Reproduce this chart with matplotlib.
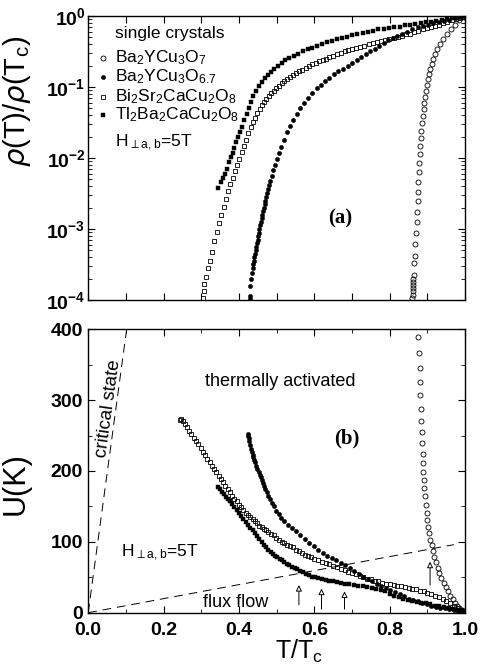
import numpy as np
import matplotlib
matplotlib.use('Agg')
import matplotlib.pyplot as plt
from matplotlib.ticker import MultipleLocator, LogLocator, NullFormatter

plt.rcParams['font.family'] = ['Liberation Sans', 'DejaVu Sans']
plt.rcParams['mathtext.default'] = 'regular'

# ---- panel (a): rho(T)/rho(Tc), values stored as log10 ----
# Ba2YCu3O7 (open circles)
y7_t = [0.860, 0.861, 0.861, 0.862, 0.862, 0.863, 0.863, 0.864, 0.865, 0.867,
        0.868, 0.870, 0.871, 0.873, 0.874, 0.875, 0.876, 0.877, 0.878, 0.879,
        0.881, 0.883, 0.884, 0.886, 0.888, 0.890, 0.892, 0.894, 0.896, 0.899,
        0.902, 0.905, 0.907, 0.911, 0.915, 0.920, 0.925, 0.933, 0.942, 0.951,
        0.962, 0.973, 0.985, 0.996]
y7_lr = [-3.97, -3.93, -3.88, -3.83, -3.79, -3.75, -3.70, -3.65, -3.48, -3.38,
         -3.21, -3.06, -2.90, -2.76, -2.61, -2.48, -2.34, -2.20, -2.07, -1.95,
         -1.83, -1.72, -1.62, -1.51, -1.41, -1.31, -1.22, -1.14, -1.05, -0.97,
         -0.89, -0.82, -0.75, -0.68, -0.61, -0.54, -0.47, -0.40, -0.32, -0.25,
         -0.19, -0.13, -0.06, -0.01]

# Ba2YCu3O6.7 (filled circles)
y67_t = [0.430, 0.430, 0.429, 0.432, 0.434, 0.436, 0.438, 0.439, 0.441, 0.443,
         0.445, 0.446, 0.448, 0.450, 0.451, 0.453, 0.454, 0.456, 0.458, 0.460,
         0.462, 0.464, 0.466, 0.468, 0.470, 0.472, 0.474, 0.477, 0.480, 0.483,
         0.487, 0.491, 0.495, 0.500, 0.506, 0.512, 0.519, 0.527, 0.535, 0.544,
         0.553, 0.563, 0.573, 0.584, 0.595, 0.606, 0.617, 0.628, 0.640, 0.652,
         0.664, 0.676, 0.688, 0.700, 0.712, 0.724, 0.736, 0.748, 0.760, 0.772,
         0.784, 0.796, 0.808, 0.820, 0.833, 0.846, 0.860, 0.874, 0.888, 0.902,
         0.916, 0.930, 0.944, 0.958, 0.972, 0.986, 0.998]
y67_lr = [-3.99, -3.95, -3.80, -3.70, -3.62, -3.55, -3.50, -3.45, -3.40, -3.35,
          -3.30, -3.25, -3.20, -3.15, -3.10, -3.05, -3.00, -2.95, -2.90, -2.85,
          -2.80, -2.75, -2.70, -2.65, -2.60, -2.55, -2.50, -2.44, -2.38, -2.32,
          -2.25, -2.17, -2.10, -2.02, -1.93, -1.84, -1.74, -1.64, -1.55, -1.46,
          -1.38, -1.30, -1.22, -1.15, -1.08, -1.02, -0.97, -0.92, -0.87, -0.82,
          -0.78, -0.74, -0.70, -0.66, -0.62, -0.58, -0.54, -0.50, -0.46, -0.42,
          -0.38, -0.34, -0.31, -0.28, -0.25, -0.22, -0.19, -0.16, -0.14, -0.12,
          -0.10, -0.08, -0.065, -0.05, -0.035, -0.02, -0.005]

# Bi2Sr2CaCu2O8 (open squares)
bi_t = [0.304, 0.306, 0.308, 0.312, 0.318, 0.323, 0.329, 0.335, 0.341, 0.347,
        0.353, 0.359, 0.365, 0.371, 0.377, 0.383, 0.389, 0.395, 0.401, 0.407,
        0.413, 0.419, 0.425, 0.431, 0.437, 0.443, 0.449, 0.455, 0.461, 0.467,
        0.473, 0.479, 0.485, 0.492, 0.499, 0.506, 0.513, 0.520, 0.528, 0.536,
        0.544, 0.552, 0.560, 0.568, 0.577, 0.586, 0.595, 0.604, 0.613, 0.622,
        0.631, 0.640, 0.650, 0.660, 0.670, 0.680, 0.690, 0.700, 0.711, 0.722,
        0.733, 0.744, 0.755, 0.766, 0.777, 0.788, 0.799, 0.810, 0.821, 0.832,
        0.843, 0.854, 0.865, 0.876, 0.887, 0.898, 0.909, 0.920, 0.931, 0.942,
        0.953, 0.964, 0.975, 0.986, 0.996]
bi_lr = [-3.97, -3.87, -3.78, -3.68, -3.55, -3.45, -3.32, -3.17, -3.04, -2.92,
         -2.80, -2.69, -2.58, -2.47, -2.37, -2.28, -2.19, -2.10, -2.01, -1.92,
         -1.83, -1.74, -1.65, -1.57, -1.50, -1.43, -1.37, -1.31, -1.26, -1.21,
         -1.17, -1.13, -1.09, -1.05, -1.01, -0.98, -0.95, -0.92, -0.89, -0.86,
         -0.83, -0.81, -0.78, -0.76, -0.73, -0.71, -0.68, -0.66, -0.64, -0.62,
         -0.60, -0.58, -0.56, -0.54, -0.52, -0.50, -0.48, -0.46, -0.45, -0.43,
         -0.42, -0.40, -0.38, -0.37, -0.35, -0.34, -0.32, -0.31, -0.29, -0.28,
         -0.26, -0.25, -0.23, -0.21, -0.19, -0.17, -0.155, -0.14, -0.12, -0.10,
         -0.08, -0.06, -0.04, -0.025, -0.01]

# Tl2Ba2CaCu2O8 (filled squares)
tl_t = [0.345, 0.352, 0.358, 0.364, 0.369, 0.374, 0.378, 0.383, 0.388, 0.393,
        0.398, 0.403, 0.408, 0.414, 0.420, 0.426, 0.432, 0.438, 0.445, 0.452,
        0.460, 0.468, 0.476, 0.485, 0.494, 0.503, 0.513, 0.523, 0.534, 0.545,
        0.557, 0.569, 0.582, 0.595, 0.608, 0.621, 0.634, 0.647, 0.660, 0.673,
        0.686, 0.700, 0.714, 0.728, 0.742, 0.756, 0.770, 0.784, 0.798, 0.812,
        0.826, 0.840, 0.854, 0.868, 0.882, 0.896, 0.910, 0.924, 0.938, 0.952,
        0.966, 0.980, 0.993]
tl_lr = [-2.42, -2.34, -2.28, -2.22, -2.15, -2.06, -1.99, -1.93, -1.86, -1.78,
         -1.70, -1.63, -1.56, -1.47, -1.38, -1.29, -1.21, -1.13, -1.06, -0.99,
         -0.93, -0.88, -0.83, -0.79, -0.74, -0.70, -0.66, -0.62, -0.59, -0.56,
         -0.53, -0.50, -0.47, -0.45, -0.42, -0.40, -0.37, -0.35, -0.33, -0.31,
         -0.29, -0.27, -0.25, -0.24, -0.22, -0.21, -0.19, -0.18, -0.17, -0.16,
         -0.15, -0.13, -0.12, -0.11, -0.10, -0.09, -0.08, -0.07, -0.06, -0.045,
         -0.03, -0.02, -0.005]

# ---- panel (b): U(K) ----
y7_tu = [0.876, 0.877, 0.879, 0.880, 0.881, 0.882, 0.883, 0.885, 0.886, 0.887,
         0.888, 0.889, 0.891, 0.892, 0.894, 0.896, 0.898, 0.900, 0.902, 0.905,
         0.908, 0.911, 0.914, 0.918, 0.922, 0.927, 0.932, 0.937, 0.943, 0.949,
         0.955, 0.961, 0.967, 0.973, 0.979, 0.985, 0.991, 0.997]
y7_u = [389, 367, 346, 326, 307, 288, 271, 255, 239, 224,
        211, 199, 187, 176, 164, 152, 141, 131, 121, 112,
        103, 95, 87, 79, 71, 63, 56, 49, 42, 36,
        30, 24, 19, 14, 10, 6.5, 3.5, 1.5]

y67_tu = [0.424, 0.425, 0.426, 0.427, 0.430, 0.432, 0.434, 0.436, 0.438, 0.440,
          0.443, 0.446, 0.449, 0.452, 0.455, 0.458, 0.461, 0.464, 0.467, 0.470,
          0.474, 0.478, 0.482, 0.487, 0.492, 0.498, 0.505, 0.512, 0.520, 0.530,
          0.540, 0.550, 0.562, 0.574, 0.586, 0.598, 0.610, 0.622, 0.634, 0.646,
          0.658, 0.670, 0.682, 0.694, 0.706, 0.718, 0.730, 0.742, 0.754, 0.766,
          0.778, 0.790, 0.802, 0.814, 0.826, 0.838, 0.850, 0.862, 0.874, 0.886,
          0.898, 0.910, 0.922, 0.934, 0.946, 0.958, 0.970, 0.982, 0.994]
y67_u = [252, 249, 246, 243, 236, 231, 227, 223, 220, 216,
         212, 207, 203, 199, 195, 191, 187, 183, 179, 175,
         170, 165, 160, 155, 150, 144, 139, 134, 129, 124,
         119, 115, 110, 104, 99, 94, 89, 84, 80, 77,
         74, 70, 67, 63, 59, 55, 51, 48, 44, 41,
         38, 35, 32, 29, 26, 23, 20, 18, 16, 14,
         12, 10, 8.5, 7, 6, 5, 3.5, 2.5, 1]

bi_tu = [0.243, 0.247, 0.251, 0.256, 0.262, 0.268, 0.274, 0.280, 0.286, 0.292,
         0.298, 0.304, 0.310, 0.316, 0.322, 0.328, 0.334, 0.340, 0.346, 0.352,
         0.358, 0.364, 0.370, 0.376, 0.382, 0.388, 0.394, 0.400, 0.406, 0.412,
         0.418, 0.424, 0.430, 0.436, 0.442, 0.448, 0.454, 0.460, 0.466, 0.472,
         0.478, 0.485, 0.492, 0.499, 0.506, 0.513, 0.520, 0.528, 0.536, 0.544,
         0.552, 0.560, 0.568, 0.576, 0.584, 0.592, 0.600, 0.610, 0.620, 0.630,
         0.640, 0.650, 0.660, 0.670, 0.680, 0.690, 0.700, 0.710, 0.720, 0.730,
         0.740, 0.750, 0.760, 0.770, 0.780, 0.790, 0.800, 0.810, 0.820, 0.830,
         0.840, 0.850, 0.860, 0.870, 0.880, 0.890, 0.900, 0.910, 0.920, 0.930,
         0.940, 0.950, 0.960, 0.970, 0.980, 0.990, 0.998]
bi_u = [272, 273, 270, 266, 262, 257, 252, 247, 243, 238,
        233, 227, 222, 217, 212, 207, 203, 198, 193, 188,
        184, 179, 174, 170, 165, 161, 157, 152, 149, 145,
        141, 138, 135, 132, 129, 126, 123, 121, 118, 116,
        114, 111, 109, 106, 102, 100, 98, 96, 94, 92,
        89, 87, 84, 82, 80, 78, 76, 74, 72, 70,
        68, 66, 64, 62, 60, 58, 56, 54, 52, 50,
        48, 47, 45, 44, 42, 41, 40, 39, 38, 37,
        36, 35, 34, 33, 31, 30, 28, 26, 24, 22,
        19, 16, 13, 10, 7, 3.5, 1]

tl_tu = [0.345, 0.350, 0.355, 0.360, 0.365, 0.370, 0.376, 0.382, 0.388, 0.394,
         0.400, 0.406, 0.412, 0.418, 0.424, 0.430, 0.436, 0.442, 0.448, 0.454,
         0.460, 0.466, 0.472, 0.478, 0.484, 0.490, 0.496, 0.502, 0.508, 0.514,
         0.520, 0.527, 0.534, 0.541, 0.548, 0.555, 0.562, 0.570, 0.578, 0.586,
         0.594, 0.602, 0.610, 0.620, 0.630, 0.640, 0.650, 0.660, 0.670, 0.680,
         0.692, 0.704, 0.716, 0.728, 0.740, 0.752, 0.764, 0.776, 0.788, 0.800,
         0.812, 0.824, 0.836, 0.848, 0.860, 0.872, 0.884, 0.896, 0.908, 0.920,
         0.932, 0.944, 0.956, 0.968, 0.980, 0.992]
tl_u = [177, 174, 170, 167, 163, 160, 158, 154, 149, 145,
        141, 137, 132, 128, 124, 120, 116, 112, 108, 104,
        100, 95, 92, 88, 85, 83, 80, 78, 76, 74,
        72, 69, 67, 65, 63, 61, 59, 57, 55, 53,
        51, 50, 49, 47, 46, 45, 44, 43, 42, 41,
        40, 39, 38, 37, 36, 35, 34, 32, 30, 27,
        24, 22, 20, 18, 17, 15, 14, 13, 12, 10,
        9, 8, 6.5, 5, 3.5, 2]

# guide lines and arrows
crit_t = [0.0, 0.102]
crit_u = [0, 400]
flux_t = [0.0, 0.97]
flux_u = [0, 96]
arrow_t = [0.559, 0.619, 0.680, 0.907]
arrow_base = [11, 5, 5, 39]
arrow_tip = [39, 34, 30, 72]

names = [r'Ba$_2$YCu$_3$O$_7$', r'Ba$_2$YCu$_3$O$_{6.7}$',
         r'Bi$_2$Sr$_2$CaCu$_2$O$_8$', r'Tl$_2$Ba$_2$CaCu$_2$O$_8$']
mk = [dict(marker='o', mfc='none', mec='k', ms=3.6, mew=0.6),
      dict(marker='o', mfc='k', mec='k', ms=3.1, mew=0.3),
      dict(marker='s', mfc='none', mec='k', ms=3.3, mew=0.6),
      dict(marker='s', mfc='k', mec='k', ms=3.1, mew=0.3)]

fig = plt.figure(figsize=(4.82, 6.69), dpi=100)
axa = fig.add_axes([0.183, 0.5516, 0.782, 0.4245])
axb = fig.add_axes([0.183, 0.0842, 0.782, 0.4236])

top_t = [y7_t, y67_t, bi_t, tl_t]
top_lr = [y7_lr, y67_lr, bi_lr, tl_lr]
for t, lr, m in zip(top_t, top_lr, mk):
    axa.plot(t, 10.0 ** np.array(lr), ls='none', **m)

axa.set_yscale('log')
axa.set_xlim(0, 1)
axa.set_ylim(1e-4, 1)
axa.xaxis.set_major_locator(MultipleLocator(0.1))
axa.xaxis.set_major_formatter(NullFormatter())
axa.set_yticks([1e-4, 1e-3, 1e-2, 1e-1, 1])
axa.set_yticklabels(['10$^{-4}$', '10$^{-3}$', '10$^{-2}$', '10$^{-1}$', '10$^{0}$'])
axa.yaxis.set_minor_locator(LogLocator(base=10, subs=np.arange(2, 10)))
axa.yaxis.set_minor_formatter(NullFormatter())
axa.set_ylabel(r'$\mathit{\rho}$(T)/$\mathit{\rho}$(T$_c$)', fontsize=21)
axa.yaxis.set_label_coords(-0.147, 0.70)

# legend by hand
axa.text(0.071, 0.940, 'single crystals', transform=axa.transAxes,
         fontsize=12.5, va='center', ha='left')
leg_y = [0.852, 0.785, 0.715, 0.651]
for yy, nm, m in zip(leg_y, names, mk):
    axa.plot([0.040], [yy], transform=axa.transAxes, ls='none', **m)
    axa.text(0.071, yy, nm, transform=axa.transAxes, fontsize=12.5,
             va='center', ha='left')
axa.text(0.071, 0.553, r'H$_{\perp a,b}$=5T', transform=axa.transAxes,
         fontsize=12.5, va='center', ha='left')
axa.text(0.668, 10 ** -2.85, '(a)', family='Liberation Serif', fontweight='bold',
         fontsize=15, ha='center', va='center')

bot_t = [y7_tu, y67_tu, bi_tu, tl_tu]
bot_u = [y7_u, y67_u, bi_u, tl_u]
for t, u, m in zip(bot_t, bot_u, mk):
    axb.plot(t, u, ls='none', **m)

axb.plot(crit_t, crit_u, color='k', lw=0.7, dashes=(9, 6))
axb.plot(flux_t, flux_u, color='k', lw=0.7, dashes=(9, 6))
for xa, b0, b1 in zip(arrow_t, arrow_base, arrow_tip):
    axb.annotate('', xy=(xa, b1), xytext=(xa, b0),
                 arrowprops=dict(arrowstyle='-|>', fc='white', ec='k', lw=0.7,
                                 mutation_scale=9, shrinkA=0, shrinkB=0))

axb.set_xlim(0, 1)
axb.set_ylim(0, 400)
axb.xaxis.set_major_locator(MultipleLocator(0.2))
axb.xaxis.set_minor_locator(MultipleLocator(0.1))
axb.yaxis.set_major_locator(MultipleLocator(100))
axb.yaxis.set_minor_locator(MultipleLocator(50))
axb.set_xticks([0, 0.2, 0.4, 0.6, 0.8, 1.0])
axb.set_xticklabels(['0.0', '0.2', '0.4', '0.6', '0.8', '1.0'])
axb.set_ylabel('U(K)', fontsize=22)
axb.yaxis.set_label_coords(-0.152, 0.454)
axb.set_xlabel('T/T$_c$', fontsize=18)
axb.xaxis.set_label_coords(0.56, -0.088)

axb.text(0.509, 326, 'thermally activated', fontsize=13, ha='center', va='center')
axb.text(0.686, 246, '(b)', family='Liberation Serif', fontweight='bold',
         fontsize=15, ha='center', va='center')
axb.text(0.088, 84, r'H$_{\perp a,b}$=5T', fontsize=12.5, ha='left', va='center')
axb.text(0.305, 15, 'flux flow', fontsize=13, ha='left', va='center')
axb.text(0.053, 288, 'critical state', fontsize=13.5, ha='center', va='center',
         rotation=82)

for ax in (axa, axb):
    ax.tick_params(which='both', direction='in', top=True, right=True)
    ax.tick_params(which='major', length=5, width=0.8, labelsize=14, pad=4)
    ax.tick_params(which='minor', length=3, width=0.6)
    for lab in ax.get_xticklabels() + ax.get_yticklabels():
        lab.set_fontweight('bold')
    for s in ax.spines.values():
        s.set_linewidth(1.0)
axa.tick_params(axis='y', which='major', pad=2)
axb.tick_params(axis='x', which='major', pad=7)

fig.savefig('out.png', dpi=100)
